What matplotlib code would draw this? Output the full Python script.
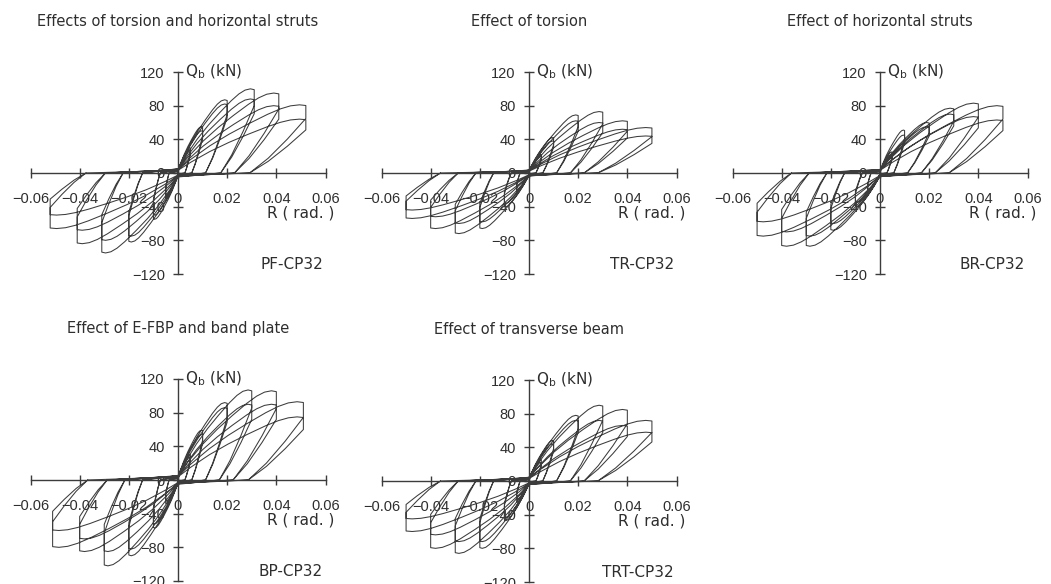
import matplotlib.pyplot as plt
import numpy as np

plt.rcParams['font.family'] = ['Liberation Sans', 'DejaVu Sans']
plt.rcParams['mathtext.fontset'] = 'custom'
plt.rcParams['mathtext.rm'] = 'DejaVu Sans'

LINE = '#3c3c3c'
TEXT = '#2e2e2e'

# ---- data: cycle amplitudes (rad) and peak shear Qb (kN)
# first / second cycle at each amplitude, positive and negative side
titles = ['Effects of torsion and horizontal struts', 'Effect of torsion',
          'Effect of horizontal struts', 'Effect of E-FBP and band plate',
          'Effect of transverse beam']
names = ['PF-CP32', 'TR-CP32', 'BR-CP32', 'BP-CP32', 'TRT-CP32']

pf_amp = [0.005, 0.01, 0.02, 0.031, 0.041, 0.052]
pf_pos1 = [30, 55, 87, 100, 95, 81]
pf_pos2 = [27, 50, 82, 88, 80, 64]
pf_neg1 = [-30, -55, -82, -95, -84, -66]
pf_neg2 = [-27, -50, -75, -80, -68, -50]

tr_amp = [0.005, 0.01, 0.02, 0.03, 0.04, 0.05]
tr_pos1 = [22, 42, 69, 73, 62, 54]
tr_pos2 = [20, 38, 62, 60, 52, 44]
tr_neg1 = [-22, -40, -66, -72, -66, -54]
tr_neg2 = [-20, -36, -58, -60, -52, -44]

br_amp = [0.005, 0.01, 0.02, 0.03, 0.04, 0.05]
br_pos1 = [25, 51, 60, 77, 83, 80]
br_pos2 = [22, 45, 55, 70, 67, 63]
br_neg1 = [-22, -40, -68, -87, -87, -75]
br_neg2 = [-20, -35, -60, -75, -70, -58]

bp_amp = [0.005, 0.01, 0.02, 0.03, 0.04, 0.051]
bp_pos1 = [30, 59, 92, 107, 106, 93]
bp_pos2 = [27, 54, 86, 90, 90, 75]
bp_neg1 = [-28, -57, -90, -102, -85, -80]
bp_neg2 = [-25, -52, -82, -85, -70, -60]

trt_amp = [0.005, 0.01, 0.02, 0.03, 0.04, 0.05]
trt_pos1 = [25, 48, 78, 90, 85, 72]
trt_pos2 = [22, 44, 72, 72, 66, 58]
trt_neg1 = [-25, -47, -80, -86, -80, -60]
trt_neg2 = [-22, -43, -72, -72, -64, -45]

x_ticks = [-0.06, -0.04, -0.02, 0, 0.02, 0.04, 0.06]
x_labels = ['\u22120.06', '\u22120.04', '\u22120.02', '0', '0.02', '0.04', '0.06']
y_ticks = [-120, -80, -40, 0, 40, 80, 120]
y_labels = ['\u2212120', '\u221280', '\u221240', '0', '40', '80', '120']

# loop shape: loading branch as fraction of (amplitude, peak)
LOAD_U = np.array([0.0, 0.1, 0.25, 0.4, 0.55, 0.7, 0.8, 0.88, 0.95, 1.0])
LOAD_V = np.array([0.05, 0.2, 0.4, 0.57, 0.72, 0.86, 0.94, 0.985, 1.0, 0.99])
# force kept after the steep unloading step, and width of unloading branch
DROP = {1: 0.8, -1: 0.62}
W_FRAC = {1: 0.44, -1: 0.28}


def half_cycle(amp, peak, sign):
    r = list(sign * amp * LOAD_U)
    q = list(peak * LOAD_V)
    w = W_FRAC[sign] * amp
    d = DROP[sign]
    r += [sign * amp, sign * (amp - 0.33 * w), sign * (amp - 0.67 * w), sign * (amp - w)]
    q += [peak * d, peak * d * 0.62, peak * d * 0.27, 0.0]
    return r, q


def hysteresis(amp, pos1, pos2, neg1, neg2):
    R, Q = [0.0], [0.0]
    for i in range(len(amp)):
        for p, n in ((pos1[i], neg1[i]), (pos2[i], neg2[i])):
            r, q = half_cycle(amp[i], p, 1)
            R += r; Q += q
            r, q = half_cycle(amp[i], n, -1)
            R += r; Q += q
    return np.array(R), np.array(Q)


series = [
    (pf_amp, pf_pos1, pf_pos2, pf_neg1, pf_neg2),
    (tr_amp, tr_pos1, tr_pos2, tr_neg1, tr_neg2),
    (br_amp, br_pos1, br_pos2, br_neg1, br_neg2),
    (bp_amp, bp_pos1, bp_pos2, bp_neg1, bp_neg2),
    (trt_amp, trt_pos1, trt_pos2, trt_neg1, trt_neg2),
]

# pixel position of each panel origin
origins = [(178, 173), (529, 173), (880, 173), (178, 480), (529, 481)]

W, H = 1051, 584
fig = plt.figure(figsize=(W / 100, H / 100), dpi=100)
fig.patch.set_facecolor('white')

for k in range(5):
    ox, oy = origins[k]
    ax = fig.add_axes([(ox - 147.5) / W, (H - oy - 101) / H, 295 / W, 202 / H])
    ax.patch.set_alpha(0)
    ax.set_xlim(-0.06, 0.06)
    ax.set_ylim(-120, 120)
    for s in ['top', 'right']:
        ax.spines[s].set_visible(False)
    for s in ['left', 'bottom']:
        ax.spines[s].set_position('zero')
        ax.spines[s].set_color(LINE)
        ax.spines[s].set_linewidth(1.0)
    ax.set_xticks(x_ticks)
    ax.set_xticklabels(x_labels)
    ax.set_yticks(y_ticks)
    ax.set_yticklabels(y_labels)
    ax.tick_params(direction='inout', length=7, width=1, color=LINE,
                   labelsize=10.5, labelcolor=TEXT)
    ax.tick_params(axis='x', pad=10)
    ax.tick_params(axis='y', pad=6)

    R, Q = hysteresis(*series[k])
    ax.plot(R, Q, color=LINE, lw=0.75, clip_on=False)

    ax.text(0.003, 120, 'Q$_{\\rm b}$ (kN)', ha='left', va='center',
            fontsize=11, color=TEXT, family='DejaVu Sans')
    ax.text(0.0635, -47, 'R ( rad. )', ha='right', va='center',
            fontsize=11, color=TEXT, family='DejaVu Sans')
    ax.text(0.059, -109, names[k], ha='right', va='center',
            fontsize=11, color=TEXT, family='DejaVu Sans')
    ax.annotate(titles[k], xy=(0, 120), xytext=(0, 36), textcoords='offset points',
                ha='center', va='center', fontsize=10.5, color=TEXT,
                family='DejaVu Sans', annotation_clip=False)

fig.savefig('out.png', dpi=100, facecolor='white')
